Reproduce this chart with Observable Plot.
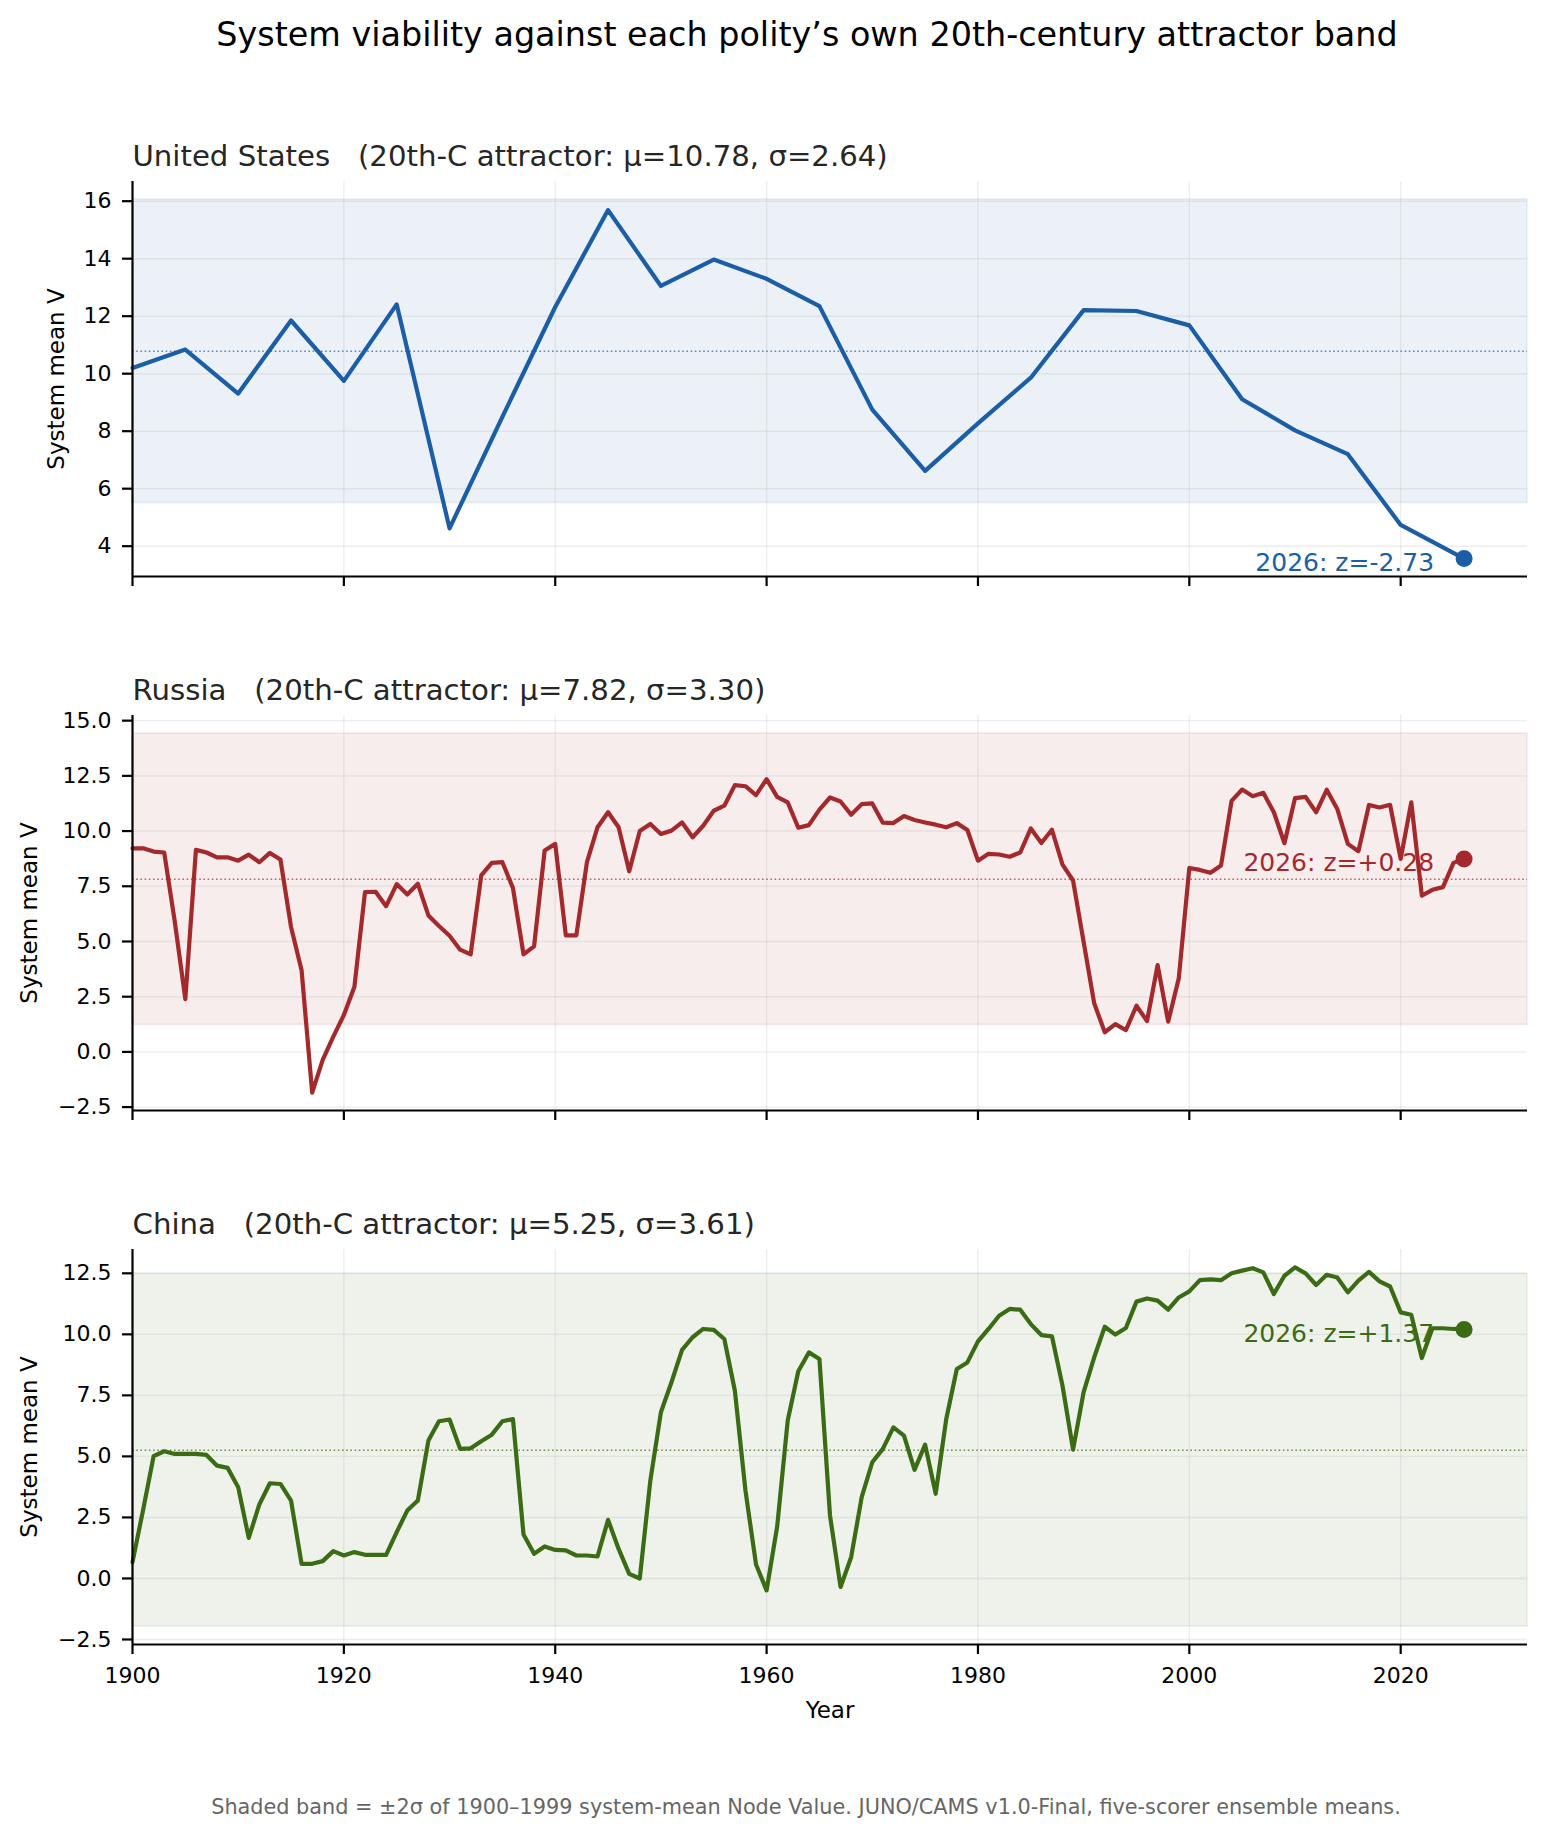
<!DOCTYPE html>
<html><head><meta charset="utf-8">
<script src="https://cdn.jsdelivr.net/npm/d3@7"></script>
<script src="https://cdn.jsdelivr.net/npm/@observablehq/plot@0.6"></script>
<style>
html,body{margin:0;padding:0;background:#fff;overflow:hidden}
#root{position:relative;width:1546px;height:1839px;font-family:"DejaVu Sans",sans-serif;background:#fff}
.abs{position:absolute;white-space:nowrap;line-height:1.164}
#root svg{position:absolute;left:0}
</style></head><body><div id="root"></div>
<script>
const polities = ["United States", "Russia", "China"];
const colors = ["#1b5ea6", "#a3292d", "#3b6b14"];
const mus = [10.78, 7.82, 5.25];
const sigmas = [2.64, 3.30, 3.61];
const zLabels = ["-2.73", "+0.28", "+1.37"];

const usYears = [1900,1905,1910,1915,1920,1925,1930,1935,1940,1945,1950,1955,1960,1965,1970,1975,1980,1985,1990,1995,2000,2005,2010,2015,2020,2026];
const usValues = [10.20,10.84,9.31,11.85,9.75,12.41,4.62,8.50,12.32,15.69,13.05,13.97,13.30,12.35,8.75,6.62,8.27,9.86,12.21,12.18,11.68,9.11,8.03,7.20,4.74,3.57];

const annualYears = d3.range(1900, 2027);
const ruValues = [
  9.22,9.22,9.07,9.03,5.90,2.39,9.15,9.03,8.81,8.81,
  8.66,8.93,8.59,9.01,8.71,5.66,3.70,-1.84,-0.36,0.69,
  1.67,2.95,7.24,7.25,6.60,7.60,7.13,7.61,6.18,5.70,
  5.26,4.63,4.42,7.99,8.56,8.59,7.42,4.42,4.78,9.12,
  9.42,5.28,5.28,8.59,10.17,10.85,10.17,8.18,10.00,10.32,
  9.87,10.02,10.39,9.72,10.24,10.92,11.15,12.08,12.03,11.63,
  12.35,11.55,11.30,10.15,10.27,10.97,11.52,11.34,10.74,11.22,
  11.25,10.38,10.36,10.68,10.50,10.39,10.29,10.17,10.36,10.05,
  8.66,8.97,8.94,8.84,9.03,10.12,9.46,10.06,8.48,7.76,
  4.98,2.20,0.89,1.26,0.99,2.09,1.40,3.93,1.37,3.32,
  8.33,8.24,8.11,8.44,11.37,11.88,11.58,11.73,10.85,9.45,
  11.49,11.55,10.85,11.87,11.00,9.42,9.09,11.18,11.07,11.19,
  8.74,11.30,7.08,7.34,7.46,8.56,8.74
];
const cnValues = [
  0.67,2.80,5.01,5.21,5.10,5.10,5.10,5.06,4.62,4.53,
  3.74,1.66,3.03,3.90,3.87,3.19,0.60,0.60,0.71,1.12,
  0.94,1.08,0.97,0.97,0.97,1.90,2.78,3.19,5.65,6.44,
  6.51,5.31,5.33,5.62,5.89,6.44,6.53,1.80,1.01,1.31,
  1.17,1.15,0.94,0.94,0.90,2.40,1.21,0.19,0.00,4.01,
  6.81,8.04,9.36,9.88,10.22,10.18,9.81,7.69,3.60,0.57,
  -0.49,2.12,6.47,8.49,9.26,8.99,2.58,-0.35,0.87,3.33,
  4.76,5.31,6.19,5.85,4.45,5.48,3.47,6.53,8.58,8.85,
  9.71,10.22,10.76,11.04,11.01,10.42,9.97,9.92,7.90,5.28,
  7.63,9.06,10.31,9.99,10.26,11.34,11.47,11.38,11.01,11.51,
  11.76,12.22,12.25,12.22,12.50,12.61,12.71,12.54,11.65,12.40,
  12.74,12.50,12.02,12.44,12.33,11.72,12.20,12.56,12.17,11.96,
  10.90,10.80,9.03,10.25,10.25,10.22,10.20
];

const xTicks = [1900, 1920, 1940, 1960, 1980, 2000, 2020];
const yTicksUS = [4, 6, 8, 10, 12, 14, 16];
const yTicksRU = [-2.5, 0, 2.5, 5, 7.5, 10, 12.5, 15];
const yTicksCN = [-2.5, 0, 2.5, 5, 7.5, 10, 12.5];
const xLimits = [1900, 2032];

const FONT = "DejaVu Sans";
const root = document.getElementById("root");

function panel(i, years, values, yTicks, fmt, opt) {
  const data = years.map((y, k) => ({year: y, v: values[k]}));
  const lo = mus[i] - 2 * sigmas[i], hi = mus[i] + 2 * sigmas[i];
  const mn = Math.min(d3.min(values), lo), mx = Math.max(d3.max(values), hi);
  const pad = 0.05 * (mx - mn);
  const y0 = mn - pad;
  const last = data[data.length - 1];
  const color = colors[i];
  const mt = 61, ph = 395, mb = opt.mb;
  const titleFs = 29.2;
  const svg = Plot.plot({
    width: 1546, height: mt + ph + mb,
    marginTop: mt, marginBottom: mb, marginLeft: 132, marginRight: 19,
    style: {fontFamily: FONT, fontSize: "22px", background: "transparent", overflow: "visible"},
    x: {domain: xLimits, label: null},
    y: {domain: [y0, mx + pad], label: null},
    marks: [
      Plot.rect([{x1: xLimits[0], x2: xLimits[1], lo, hi}], {x1: "x1", x2: "x2", y1: "lo", y2: "hi", fill: color, fillOpacity: 0.085, stroke: color, strokeOpacity: 0.07, strokeWidth: 2}),
      Plot.gridX(xTicks, {stroke: "#b0b0b0", strokeOpacity: 0.22, strokeWidth: 1.4}),
      Plot.gridY(yTicks, {stroke: "#b0b0b0", strokeOpacity: 0.22, strokeWidth: 1.4}),
      Plot.ruleY([mus[i]], {stroke: color, strokeOpacity: 0.7, strokeWidth: 1.6, strokeDasharray: "1.6,2.6"}),
      Plot.line(data, {x: "year", y: "v", stroke: color, strokeWidth: 4.2}),
      Plot.dot([last], {x: "year", y: "v", r: 8.5, fill: color, stroke: null}),
      Plot.text([last], {x: "year", y: "v", text: d => `${d.year}: z=${zLabels[i]}`, textAnchor: "end", lineAnchor: "middle", dx: -30, dy: 4.4, fill: color, fontSize: 25}),
      Plot.ruleX([xLimits[0]], {stroke: "black", strokeWidth: 2.2}),
      Plot.ruleY([y0], {stroke: "black", strokeWidth: 2.2}),
      Plot.axisX(xTicks, {tickSize: 10, tickPadding: 13, strokeWidth: 2.2, stroke: "black", fill: "black", fontSize: 22, label: null,
        tickFormat: opt.showX ? d3.format("d") : () => ""}),
      Plot.axisY(yTicks, {tickSize: 10, tickPadding: 11, strokeWidth: 2.2, stroke: "black", fill: "black", fontSize: 22, label: null,
        tickFormat: d3.format(fmt)}),
      Plot.text([polities[i]], {frameAnchor: "top-left", textAnchor: "start", lineAnchor: "middle",
        text: d => `${d}\u00a0\u00a0\u00a0(20th-C attractor: μ=${mus[i].toFixed(2)}, σ=${sigmas[i].toFixed(2)})`,
        dy: -16 - 0.32 * titleFs, fontSize: titleFs, fill: "#262626"}),
      Plot.text(["System mean V"], {frameAnchor: "left", rotate: -90, textAnchor: "middle", lineAnchor: "middle",
        dx: opt.ylabDx, fontSize: 23, fill: "black"}),
      ...(opt.showX ? [Plot.text(["Year"], {frameAnchor: "bottom", textAnchor: "middle", lineAnchor: "middle",
        dy: 73 - 0.32 * 23, fontSize: 23, fill: "black"})] : [])
    ]
  });
  svg.style.top = (opt.axTop - mt) + "px";
  root.appendChild(svg);
}

panel(0, usYears, usValues, yTicksUS, "d", {mb: 40, showX: false, axTop: 181, ylabDx: -76});
panel(1, annualYears, ruValues, yTicksRU, ".1f", {mb: 40, showX: false, axTop: 714.5, ylabDx: -103});
panel(2, annualYears, cnValues, yTicksCN, ".1f", {mb: 100, showX: true, axTop: 1249, ylabDx: -103});

function addText(txt, cx, baseline, fs, color) {
  const d = document.createElement("div");
  d.className = "abs";
  d.textContent = txt;
  d.style.fontSize = fs + "px";
  d.style.color = color;
  d.style.left = cx + "px";
  d.style.transform = "translateX(-50%)";
  d.style.top = (baseline - 0.928 * fs) + "px";
  root.appendChild(d);
}
addText("System viability against each polity’s own 20th-century attractor band", 807, 47, 33.4, "#000");
addText("Shaded band = ±2σ of 1900–1999 system-mean Node Value. JUNO/CAMS v1.0-Final, five-scorer ensemble means.", 806, 1814, 20.8, "#666");
</script></body></html>
